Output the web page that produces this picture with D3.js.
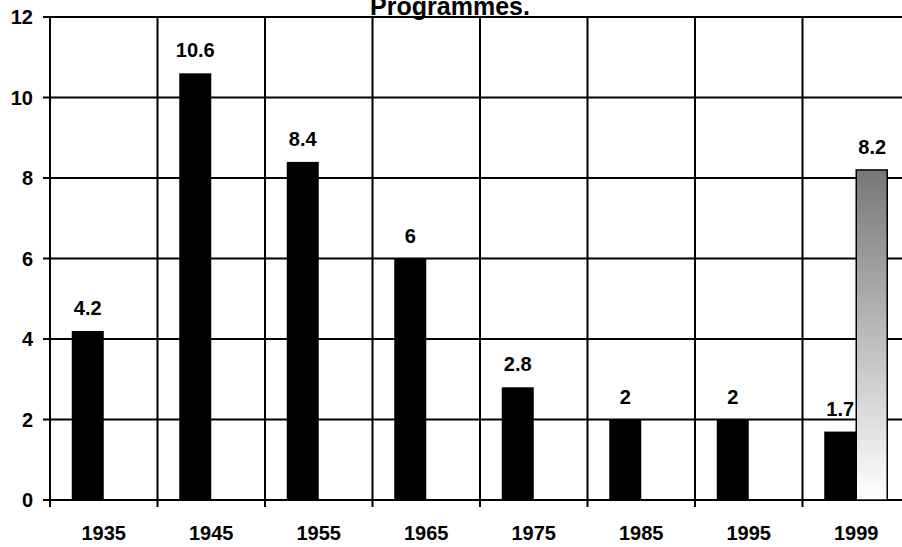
<!DOCTYPE html>
<html>
<head>
<meta charset="utf-8">
<script src="https://cdn.jsdelivr.net/npm/d3@7"></script>
<style>
  body { margin: 0; background: #fff; overflow: hidden; }
  svg { display: block; font-family: "Liberation Sans", Arial, sans-serif; font-weight: bold; }
</style>
</head>
<body>
<svg id="chart"></svg>
<script>
const categories = ['1935', '1945', '1955', '1965', '1975', '1985', '1995', '1999'];
const seriesA = [4.2, 10.6, 8.4, 6, 2.8, 2, 2, 1.7];
const seriesB = [null, null, null, null, null, null, null, 8.2];
const yTicks = [0, 2, 4, 6, 8, 10, 12];

const W = 902, H = 547;
const plot = { left: 50, right: 910, top: 17, bottom: 500 };

const svg = d3.select('#chart').attr('width', W).attr('height', H);

const defs = svg.append('defs');
const grad = defs.append('linearGradient')
    .attr('id', 'fade')
    .attr('x1', 0).attr('y1', 0).attr('x2', 0).attr('y2', 1);
grad.append('stop').attr('offset', '0%').attr('stop-color', '#777');
grad.append('stop').attr('offset', '100%').attr('stop-color', '#fff');

const x = d3.scaleBand().domain(categories).range([plot.left, plot.right]).padding(0);
const barW = 32;
const x1 = d3.scaleBand().domain(['a', 'b'])
    .range([x.bandwidth() / 2 - barW, x.bandwidth() / 2 + barW]).padding(0);
const y = d3.scaleLinear().domain([0, 12]).range([plot.bottom, plot.top]);

// grid
const grid = svg.append('g').attr('stroke', '#000').attr('stroke-width', 2);
grid.selectAll('.h')
    .data(yTicks)
    .enter()
    .append('line')
    .attr('x1', plot.left - 7).attr('x2', plot.right)
    .attr('y1', d => y(d)).attr('y2', d => y(d));

const bounds = categories.map(c => x(c)).concat([plot.right]);
grid.selectAll('.v')
    .data(bounds)
    .enter()
    .append('line')
    .attr('x1', d => d).attr('x2', d => d)
    .attr('y1', plot.top).attr('y2', plot.bottom + 7);

// bars
const groups = svg.selectAll('.grp')
    .data(categories)
    .enter()
    .append('g')
    .attr('transform', d => `translate(${x(d)},0)`);

groups.append('rect')
    .attr('x', x1('a'))
    .attr('width', x1.bandwidth())
    .attr('y', (d, i) => y(seriesA[i]))
    .attr('height', (d, i) => y(0) - y(seriesA[i]))
    .attr('fill', '#000');

groups.filter((d, i) => seriesB[i] != null)
    .append('rect')
    .attr('x', x1('b'))
    .attr('width', x1.bandwidth() - 1)
    .attr('y', d => y(seriesB[categories.indexOf(d)]))
    .attr('height', d => y(0) - y(seriesB[categories.indexOf(d)]))
    .attr('fill', 'url(#fade)')
    .attr('stroke', '#000')
    .attr('stroke-width', 1.5);

// value labels
groups.append('text')
    .attr('x', x1('a') + x1.bandwidth() / 2)
    .attr('y', (d, i) => y(seriesA[i]) - 16)
    .attr('text-anchor', 'middle')
    .attr('font-size', 20)
    .text((d, i) => seriesA[i]);

groups.filter((d, i) => seriesB[i] != null)
    .append('text')
    .attr('x', x1('b') + x1.bandwidth() / 2)
    .attr('y', d => y(seriesB[categories.indexOf(d)]) - 16)
    .attr('text-anchor', 'middle')
    .attr('font-size', 20)
    .text(d => seriesB[categories.indexOf(d)]);

// axis labels
svg.selectAll('.ylab')
    .data(yTicks)
    .enter()
    .append('text')
    .attr('x', 33)
    .attr('y', d => y(d))
    .attr('dy', '0.36em')
    .attr('text-anchor', 'end')
    .attr('font-size', 20)
    .text(d => d);

svg.selectAll('.xlab')
    .data(categories)
    .enter()
    .append('text')
    .attr('x', d => x(d) + x.bandwidth() / 2)
    .attr('y', 540)
    .attr('text-anchor', 'middle')
    .attr('font-size', 20)
    .text(d => d);

// title, mostly cut off at the top
svg.append('text')
    .attr('x', 450)
    .attr('y', 15)
    .attr('text-anchor', 'middle')
    .attr('font-size', 25)
    .text('Programmes.');
</script>
</body>
</html>
